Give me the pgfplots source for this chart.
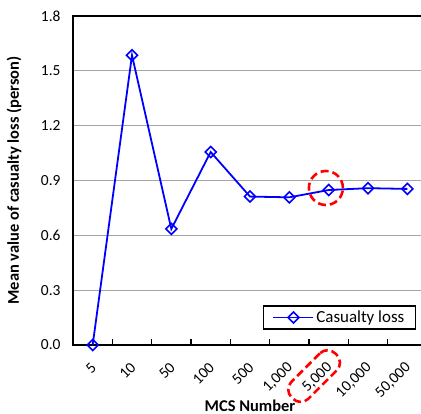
\documentclass[border=0pt]{standalone}
\usepackage{pgfplots}
\pgfplotsset{compat=1.18}
\usepackage{fontspec}
\setmainfont{Carlito}
\usetikzlibrary{calc}
\definecolor{gridgray}{RGB}{165,165,165}
\begin{document}
\begin{tikzpicture}
\begin{axis}[
  name=ax,
  scale only axis, width=354bp, height=329bp,
  xmin=-0.5, xmax=8.5, ymin=0, ymax=1.8,
  clip=false,
  axis line style={line width=2.2bp, black},
  xtick={0,1,2,3,4,5,6,7,8},
  xticklabels={5,10,50,100,500,{1,000},{5,000},{10,000},{50,000}},
  major x tick style={draw=none},
  minor xtick={-0.5,0.5,1.5,2.5,3.5,4.5,5.5,6.5,7.5,8.5},
  minor x tick style={line width=1.5bp, black},
  minor tick length=6bp,
  xtick pos=left,
  ytick={0,0.3,0.6,0.9,1.2,1.5,1.8},
  major y tick style={draw=none},
  ymajorgrids,
  grid style={gridgray, line width=1.3bp},
  /pgf/number format/.cd, fixed, fixed zerofill, precision=1, assume math mode=true,
  /pgfplots/.cd,
  yticklabel style={font=\fontsize{15.5}{18}\selectfont, xshift=-9bp},
  xticklabel style={font=\fontsize{15.5}{18}\selectfont, rotate=45, anchor=east, xshift=-10bp, yshift=-15bp},
  every axis y label/.style={at={(axis description cs:0,0.5)}, xshift=-48bp, anchor=south, rotate=90, font=\fontsize{16.5}{19}\selectfont\bfseries},
  every axis x label/.style={at={(axis description cs:0.5,0)}, yshift=-66bp, anchor=base, font=\fontsize{16.5}{19}\selectfont\bfseries},
  ylabel={Mean value of casualty loss (person)},
  xlabel={MCS Number},
  legend style={at={(rel axis cs:0.969,0.046)}, anchor=south east, draw=black, line width=1.5bp,
    font=\fontsize{17}{20}\selectfont, inner xsep=9bp, inner ysep=3bp},
  legend cell align=left,
  legend image code/.code={\draw[mark repeat=2,mark phase=2] plot coordinates {(0bp,0bp) (20bp,0bp) (40bp,0bp)};},
]
\addplot[color=blue, line width=1.8bp, mark=square, mark size=3.9bp,
  mark options={rotate=45, fill=white, line width=1.6bp, solid}]
  coordinates {(0,0) (1,1.585) (2,0.635) (3,1.056) (4,0.812) (5,0.808) (6,0.848) (7,0.858) (8,0.854)};
\addlegendentry{Casualty loss}
\draw[red, line width=2.6bp, dash pattern=on 8bp off 4bp] (axis cs:5.93,0.859) circle[radius=17bp];
\node[draw=red, line width=2.6bp, dash pattern=on 8bp off 4bp, rounded corners=11bp, rotate=45,
  minimum width=62bp, minimum height=24bp] at (axis cs:5.63,-0.17) {};
\end{axis}
\pgfresetboundingbox
\path[use as bounding box] ($(ax.south west)+(-73bp,-69bp)$) rectangle ($(ax.south west)+(348bp,345bp)$);
\end{tikzpicture}
\end{document}
